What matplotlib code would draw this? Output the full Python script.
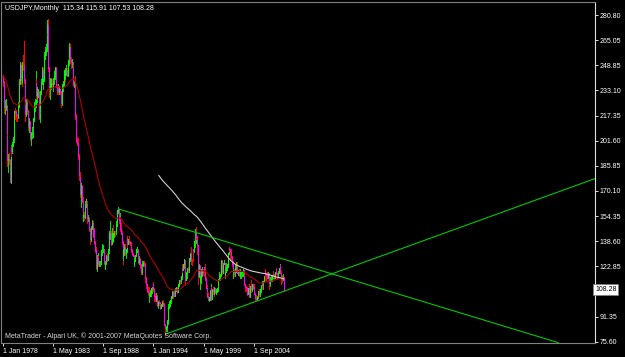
import numpy as np
import pandas as pd
import matplotlib
matplotlib.use("Agg")
from matplotlib import pyplot as plt
from matplotlib.collections import LineCollection

plt.rcParams['font.family'] = ['Liberation Sans', 'DejaVu Sans']

# USDJPY monthly bars, Jan 1978 .. Nov 2007, one row per year
first_open = 240.0
closes = [
    241.8, 238.5, 222.5, 223.0, 223.6, 204.5, 189.4, 189.9, 189.2, 176.0, 197.4, 195.1,
    199.6, 202.5, 209.2, 219.9, 219.8, 216.9, 216.8, 220.3, 223.9, 238.4, 248.8, 239.7,
    238.4, 249.3, 248.8, 239.9, 224.0, 218.0, 226.0, 220.0, 210.0, 212.0, 213.0, 203.0,
    206.0, 206.0, 210.0, 215.0, 224.0, 224.0, 238.0, 230.0, 232.0, 232.0, 216.0, 219.9,
    232.0, 238.0, 246.0, 237.0, 240.0, 255.0, 258.0, 259.0, 269.0, 274.0, 247.0, 235.0,
    240.0, 236.0, 238.0, 237.0, 239.0, 240.0, 242.0, 247.0, 236.0, 233.0, 235.0, 232.0,
    234.0, 233.0, 225.0, 225.0, 236.0, 237.0, 245.0, 242.0, 246.0, 246.0, 243.0, 251.0,
    254.0, 260.0, 252.0, 251.0, 251.0, 248.0, 237.0, 237.0, 217.0, 211.0, 202.0, 200.0,
    192.0, 180.0, 179.0, 168.0, 173.0, 164.0, 154.0, 155.0, 154.0, 162.0, 162.0, 160.0,
    153.0, 153.0, 146.0, 140.0, 144.0, 147.0, 150.0, 142.0, 146.0, 138.0, 133.0, 122.0,
    127.0, 128.0, 124.0, 124.5, 124.5, 132.0, 133.0, 134.0, 134.0, 125.0, 122.0, 125.0,
    129.0, 127.0, 132.5, 133.0, 143.5, 144.0, 137.0, 144.0, 139.0, 143.0, 144.0, 143.5,
    145.0, 149.5, 157.5, 159.0, 152.0, 152.8, 146.0, 144.0, 138.0, 129.0, 133.0, 135.0,
    131.0, 133.0, 140.5, 137.0, 138.5, 138.0, 137.5, 136.5, 133.0, 130.5, 129.5, 125.0,
    126.0, 129.0, 133.0, 133.0, 127.5, 125.5, 127.5, 123.5, 119.5, 123.5, 124.5, 124.8,
    124.5, 117.5, 115.5, 111.5, 107.5, 107.0, 104.5, 104.5, 106.0, 108.5, 108.5, 111.9,
    108.5, 104.0, 102.5, 102.0, 104.5, 98.5, 100.5, 99.9, 98.5, 97.0, 98.5, 99.7,
    99.5, 96.5, 86.5, 84.0, 84.5, 84.5, 88.5, 97.5, 99.5, 101.5, 101.5, 103.5,
    107.0, 104.5, 107.0, 104.5, 108.5, 109.5, 106.5, 108.5, 111.5, 114.0, 113.5, 116.0,
    121.5, 120.5, 124.0, 127.0, 116.5, 114.5, 118.5, 121.0, 120.5, 120.5, 127.5, 130.5,
    127.0, 126.5, 133.5, 132.5, 138.5, 138.5, 144.5, 141.5, 136.0, 116.5, 123.0, 113.5,
    116.0, 119.0, 120.0, 119.5, 121.5, 121.0, 115.0, 109.5, 106.0, 104.5, 102.0, 102.2,
    107.5, 109.5, 102.5, 108.0, 107.5, 106.0, 109.5, 106.5, 108.0, 109.0, 111.0, 114.5,
    116.5, 117.5, 126.0, 123.5, 119.0, 124.5, 125.0, 118.5, 119.5, 122.5, 123.5, 131.5,
    134.5, 133.5, 132.5, 128.5, 124.5, 119.5, 119.5, 118.5, 121.5, 122.5, 122.5, 118.7,
    119.5, 117.5, 118.0, 119.0, 119.5, 119.7, 120.5, 116.5, 111.5, 110.0, 109.5, 107.0,
    105.5, 109.0, 104.0, 110.5, 109.5, 108.5, 111.5, 109.5, 110.0, 105.8, 103.1, 102.6,
    103.6, 104.6, 107.1, 105.4, 108.5, 110.8, 112.5, 111.0, 113.4, 116.4, 119.7, 117.8,
    117.2, 115.8, 117.6, 113.8, 112.4, 114.4, 114.7, 117.3, 118.0, 116.8, 115.8, 119.0,
    121.0, 118.5, 117.8, 119.5, 121.7, 123.2, 118.7, 115.8, 114.8, 115.34, 108.28,
]
highs = [
    243, 243, 239, 227, 228, 224, 205, 193, 194, 190, 199, 198,
    201, 204, 211, 220, 222, 221, 218, 222, 226, 240, 251, 250,
    242, 251, 255, 264, 240, 226, 228, 227, 221, 214, 216, 214,
    207, 210, 211, 216, 226, 228, 245, 240, 235, 234, 233, 222,
    233, 240, 248, 247, 241, 257, 260, 262, 270, 277, 278, 248,
    241, 241, 240, 240, 241, 242, 245, 248, 248, 237, 237, 236,
    236, 234, 233, 228, 237, 239, 246, 246, 247, 249, 247, 252,
    255, 263, 262, 254, 253, 251, 249, 239, 242, 218, 210, 204,
    203, 193, 182, 181, 175, 174, 166, 156, 157, 164, 165, 164,
    160, 155, 154, 147, 145, 148, 152, 151, 147, 147, 139, 135,
    130, 131, 129, 126, 126, 133, 135, 137, 136, 134, 126, 126,
    130, 131, 134, 135, 145, 151, 145, 147, 149, 144, 145, 145,
    146, 151, 158, 160.3, 159, 156, 154, 150, 145, 139, 134, 137,
    137, 134, 141, 142, 140, 142, 139, 138, 137, 134, 131, 130,
    128, 130, 134, 135, 134, 128, 129, 128, 124, 124, 126, 126,
    126, 125, 118, 116, 112, 110, 110, 106, 108, 109, 110, 112,
    113, 109, 106, 105, 106, 105, 101, 101.5, 100.5, 99.5, 99.5, 101,
    101.5, 100, 97, 85.5, 85.5, 86, 89, 99.5, 101, 102, 102.5, 104,
    107.5, 107.5, 107.5, 108, 109, 110, 110, 109, 112, 114.5, 114.5, 116.5,
    122, 124.5, 124.5, 127.5, 127, 116, 119, 121.5, 122.5, 123, 128, 131.5,
    135, 127.5, 134, 134, 139, 146.5, 145, 147.6, 142, 136, 124, 123.5,
    116.5, 121, 122.5, 121, 122.5, 122, 124.5, 116, 111, 107, 106, 103.5,
    107.8, 111.5, 110, 108.5, 110, 107.5, 110, 109.5, 108.5, 109.5, 112, 115,
    119, 118, 126.5, 127, 124, 125, 126.5, 125, 122, 125, 124.5, 131.5,
    135, 135, 134, 133.5, 129, 126, 120.5, 121, 124, 125.5, 123, 125.5,
    120.5, 121, 121, 121, 120, 120, 121, 120.5, 117.5, 112, 110.5, 110,
    107.5, 109.5, 112, 110.5, 114.5, 110, 112, 112, 111.5, 111.5, 106, 105,
    104.5, 106, 107.5, 108.5, 108.5, 111, 113.5, 112.5, 113.7, 116.5, 121.4, 121,
    118.5, 119, 119, 118.5, 113.5, 116, 117, 117.5, 118.3, 119.9, 118, 119.3,
    122, 122, 118.5, 120, 121.9, 124.1, 123.5, 119.8, 117.2, 117.9, 115.91,
]
lows = [
    237, 236, 219, 218, 221, 203, 186, 182, 187, 175.5, 175, 192,
    194, 198, 201, 208, 215, 214, 214, 216, 218, 223, 237, 237,
    236, 238, 246, 238, 222, 214, 217, 218, 208, 207, 210, 202,
    199, 203, 204, 207, 214, 220, 223, 228, 226, 229, 215, 213,
    219, 231, 237, 236, 234, 239, 253, 255, 258, 268, 245, 229,
    228, 234, 234, 235, 233, 237, 239, 240, 235, 231, 231, 231,
    231, 231, 223, 224, 225, 233, 236, 239, 240, 243, 242, 242,
    249, 252, 250, 247, 248, 247, 236, 235, 215, 208, 201, 199,
    190, 177, 174, 166, 160, 163, 153, 151, 152, 153, 160, 158,
    150, 151, 145, 137, 139, 141, 146, 141, 141, 137, 132, 121,
    120, 126, 123, 123, 123, 124, 130, 131, 132, 124, 121, 121,
    124, 126, 127, 131, 132, 140, 136, 137, 138, 139, 141, 142,
    143, 144, 148, 156, 150, 151, 145, 143, 137, 124, 127, 130,
    130, 128, 132, 135, 137, 137, 136, 135, 132, 130, 129, 124,
    123, 126, 129, 132, 127, 125, 124, 122, 118, 118, 122, 123,
    123, 117, 113, 109, 107, 105, 102, 100.5, 104, 104, 106, 107.5,
    107.5, 101, 101, 101, 101, 98, 97, 98.5, 97.5, 96, 96.5, 98,
    98, 96, 86, 79.75, 82, 82, 84, 87, 97, 98, 100, 101,
    103, 103, 104.5, 104, 104.5, 107.5, 106, 106.5, 108.5, 110.5, 111.5, 112.5,
    115, 119.5, 120.5, 122, 113, 111, 114, 115.5, 119.5, 119, 120, 126,
    124.5, 123.5, 126, 126, 132, 135, 137.5, 140, 130.5, 111.5, 116, 112.5,
    108.5, 112.5, 117, 117.5, 118, 116.5, 114, 109, 103.5, 104, 101.5, 101.3,
    101.5, 107, 102, 102.5, 105.5, 104, 105.5, 106, 105.5, 107, 107.5, 110.5,
    114, 114.5, 117, 120, 118, 118.5, 124, 118, 115.5, 119.5, 120.5, 122.5,
    130.5, 132.5, 126.5, 127.5, 123, 118.5, 115.5, 117, 116.5, 121.5, 119.5, 118.5,
    117.5, 117, 115.5, 118, 115.5, 116.5, 117, 116, 111, 107.5, 107.5, 106.5,
    105, 105.5, 103.5, 103.5, 108.5, 106.5, 107.5, 108.5, 108.5, 105.5, 102, 101.8,
    101.7, 103, 103.5, 104.5, 104.5, 107, 110.5, 108.5, 108.9, 113, 116, 114.5,
    113.5, 115.5, 115.8, 113.5, 108.9, 110.5, 113.5, 113.5, 115.5, 116, 115, 115.3,
    118.5, 118.3, 115, 116.9, 118.5, 121.2, 118.5, 111.6, 113.3, 114.1, 107.53,
]

# hand-drawn trendlines: (bar, price) anchor pairs
trend_upper = [(147.4, 158.8), (708.3, 75.0)]
trend_lower = [(207.8, 80.4), (755.0, 177.8)]

date_ticks = [0, 64, 128, 192, 256, 320]
date_labels = ["1 Jan 1978", "1 May 1983", "1 Sep 1988", "1 Jan 1994", "1 May 1999", "1 Sep 2004"]
price_ticks = [75.60 + 15.75 * k for k in range(14)]
price_labels = ["75.60", "91.35", "", "122.85", "138.60", "154.35", "170.10",
                "185.85", "201.60", "217.35", "233.10", "248.85", "265.05", "280.80"]
last_price = 108.28
header = "USDJPY,Monthly  115.34 115.91 107.53 108.28"
footer = "MetaTrader - Alpari UK, \u00a9 2001-2007 MetaQuotes Software Corp."

df = pd.DataFrame({"close": closes, "high": highs, "low": lows})
df["open"] = df["close"].shift(1).fillna(first_open)
df["high"] = df[["high", "open", "close"]].max(axis=1)
df["low"] = df[["low", "open", "close"]].min(axis=1)
df["ema50"] = df["close"].ewm(span=50, adjust=False).mean()
df["sma200"] = df["close"].rolling(200).mean()

W, H = 625, 357
fig = plt.figure(figsize=(W / 100, H / 100), dpi=100, facecolor="black")
ax = fig.add_axes([1.5 / W, 1 - 342.7 / H, (595 - 1.5) / W, (342.7 - 2) / H])
ax.set_facecolor("black")

# candles drawn bar by bar (wick, then body) so later bars overlap earlier ones
segs, cols, widths = [], [], []
for i, r in df.iterrows():
    bull = r["close"] >= r["open"]
    segs.append([(i, r["low"]), (i, r["high"])])
    cols.append("#00e000" if bull else "#ff0000")
    widths.append(0.55)
    segs.append([(i, r["open"]), (i, r["close"])])
    cols.append("#00ff00" if bull else "#ff00ff")
    widths.append(0.55)
ax.add_collection(LineCollection(segs, colors=cols, linewidths=widths, antialiased=False))

ax.plot(df.index, df["ema50"], color="#b00000", lw=0.8)
ax.plot(df.index, df["sma200"], color="#d0d0d0", lw=0.8)

for (x0, y0), (x1, y1) in [trend_upper, trend_lower]:
    ax.plot([x0, x1], [y0, y1], color="#00c800", lw=0.8)

px_per_bar = 0.7844
ax.set_xlim((1.5 - 2.7) / px_per_bar, (595 - 2.7) / px_per_bar)
ax.set_ylim(74.97, 288.5)

for side in ["top", "bottom", "left"]:
    ax.spines[side].set_color("#808080")
ax.spines["right"].set_color("#e0e0e0")
for s in ax.spines.values():
    s.set_linewidth(0.8)

ax.yaxis.tick_right()
ax.set_yticks(price_ticks)
ax.set_yticklabels(price_labels)
ax.tick_params(axis="y", colors="#e0e0e0", labelcolor="white", length=2.2, width=0.7,
               pad=1.2, labelsize=5)
ax.set_xticks(date_ticks)
ax.set_xticklabels(date_labels, ha="left")
ax.tick_params(axis="x", colors="#e0e0e0", labelcolor="white", length=2.2, width=0.7,
               pad=1.5, labelsize=5)

# current price box on the price scale
ax.text(1.0, last_price, "%.2f" % last_price, transform=ax.get_yaxis_transform(),
        ha="left", va="center", fontsize=5, color="black",
        bbox=dict(boxstyle="square,pad=0.25", fc="white", ec="#808080", lw=0.5))

fig.text(5 / W, 1 - 8.3 / H, header, color="white", fontsize=5, va="center", ha="left")
fig.text(4.7 / W, 1 - 336.5 / H, footer, color="#d8d8d8", fontsize=5, va="center", ha="left")

fig.savefig("out.png", dpi=100, facecolor="black")
